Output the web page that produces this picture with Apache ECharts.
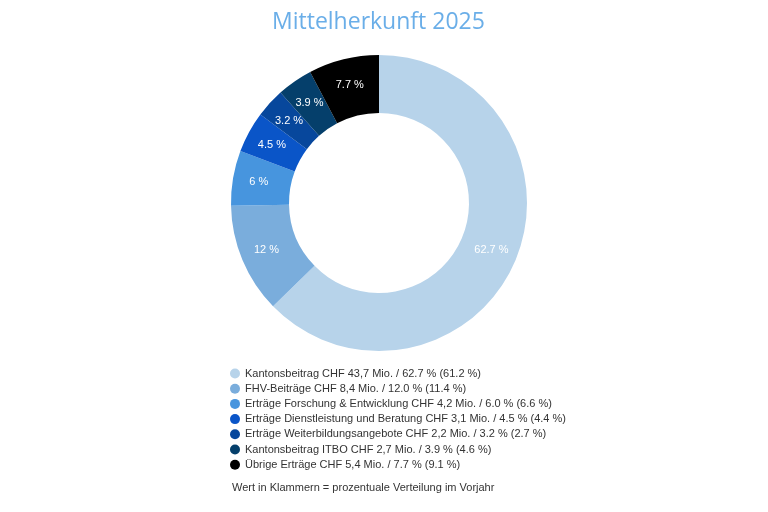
<!DOCTYPE html>
<html><head><meta charset="utf-8">
<script src="https://cdn.jsdelivr.net/npm/echarts@6/dist/echarts.min.js"></script>
<style>html,body{margin:0;padding:0;background:#fff}#c{width:768px;height:512px}</style>
</head><body><div id="c"></div>
<script>
const categories = ['Kantonsbeitrag','FHV-Beiträge','Erträge Forschung & Entwicklung','Erträge Dienstleistung und Beratung','Erträge Weiterbildungsangebote','Kantonsbeitrag ITBO','Übrige Erträge'];
const amounts = [43.7, 8.4, 4.2, 3.1, 2.2, 2.7, 5.4];
const percents = [62.7, 12.0, 6.0, 4.5, 3.2, 3.9, 7.7];
const prevPercents = [61.2, 11.4, 6.6, 4.4, 2.7, 4.6, 9.1];
const colors = ['#b7d3ea','#7aaddc','#4795de','#0a55c8','#07479c','#053f6b','#000000'];

const names = categories.map((c,i)=>`${c} CHF ${amounts[i].toFixed(1).replace('.',',')} Mio. / ${percents[i].toFixed(1)} % (${prevPercents[i].toFixed(1)} %)`);
const data = names.map((n,i)=>({name:n,value:percents[i],itemStyle:{color:colors[i]}}));

const chart = echarts.init(document.getElementById('c'));
chart.setOption({
  animation:false,
  title:{text:'Mittelherkunft 2025',left:267,top:6,textStyle:{color:'#6aaee8',fontSize:23,fontWeight:'normal',fontFamily:'Open Sans'}},
  legend:{orient:'vertical',left:225,top:363,itemGap:4.2,itemWidth:10,itemHeight:10,icon:'circle',
    textStyle:{fontSize:11,color:'#333',fontFamily:'Liberation Sans'},data:names},
  graphic:[{type:'text',left:232,top:482,style:{text:'Wert in Klammern = prozentuale Verteilung im Vorjahr',fontSize:11,fill:'#333',fontFamily:'Liberation Sans'}}],
  series:[{type:'pie',center:[379,203],radius:[90,148],startAngle:90,clockwise:true,
    label:{show:true,position:'inside',color:'#fff',fontSize:11,fontFamily:'Liberation Sans',formatter:p=>percents[p.dataIndex]+' %'},
    labelLine:{show:false},emphasis:{disabled:true},data:data}]
});
</script></body></html>
